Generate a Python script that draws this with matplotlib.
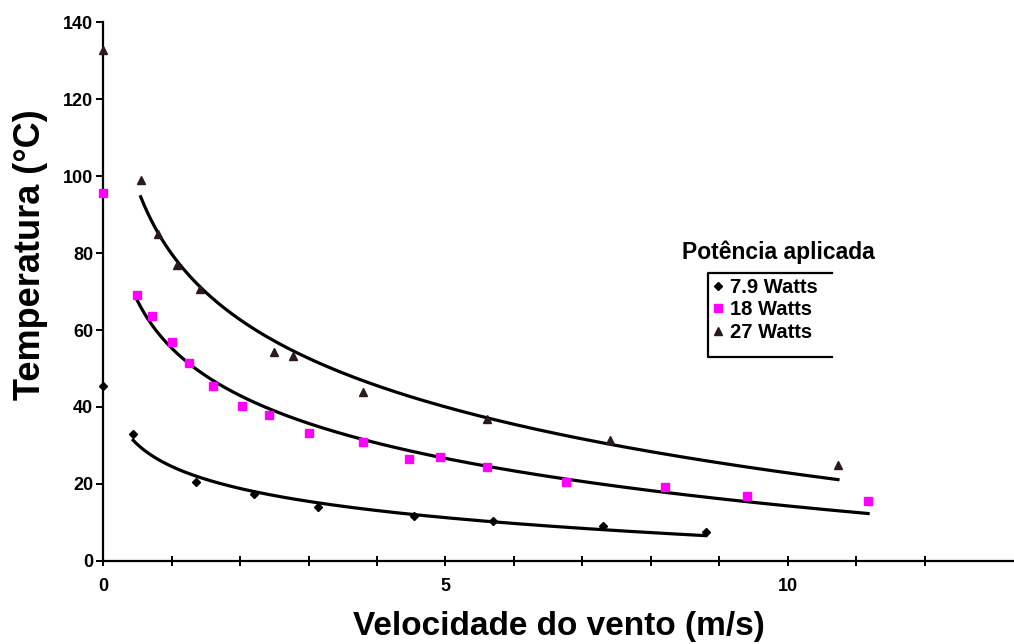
import numpy as np
import matplotlib.pyplot as plt
from matplotlib.lines import Line2D

# wind speed (m/s) and temperature (C) for each applied power
x_79 = [0.0, 0.44, 1.36, 2.2, 3.14, 4.54, 5.7, 7.3, 8.8]
y_79 = [45.5, 33.0, 20.5, 17.4, 14.0, 11.7, 10.4, 9.0, 7.5]

x_18 = [0.0, 0.5, 0.72, 1.0, 1.26, 1.6, 2.03, 2.42, 3.0, 3.8, 4.47, 4.92, 5.6, 6.76, 8.2, 9.4, 11.17]
y_18 = [95.6, 69.0, 63.6, 57.0, 51.4, 45.5, 40.3, 38.0, 33.2, 30.9, 26.5, 27.0, 24.4, 20.5, 19.2, 16.9, 15.6]

x_27 = [0.0, 0.55, 0.8, 1.08, 1.42, 2.5, 2.77, 3.8, 5.6, 7.4, 10.73]
y_27 = [132.7, 99.0, 85.0, 77.0, 70.6, 54.3, 53.2, 43.9, 36.9, 31.4, 25.0]

labels = ['7.9 Watts', '18 Watts', '27 Watts']

plt.rcParams['font.family'] = ['Liberation Sans', 'DejaVu Sans']
plt.rcParams['font.weight'] = 'bold'

fig = plt.figure(figsize=(10.14, 6.44), dpi=100)
ax = fig.add_axes([0.1016, 0.1289, 0.8984, 0.8369])

series = [
    (x_79, y_79, 'D', 4.5, 'black'),
    (x_18, y_18, 's', 6, '#ff00ff'),
    (x_27, y_27, '^', 6, '#2b1a1a'),
]

handles = []
for (xs, ys, mk, ms, col), lab in zip(series, labels):
    xs = np.array(xs)
    ys = np.array(ys)
    ax.plot(xs, ys, linestyle='none', marker=mk, ms=ms, color=col, clip_on=False, zorder=3)
    # logarithmic trendline (like a spreadsheet), points with x > 0
    m = xs > 0
    b, a = np.polyfit(np.log(xs[m]), ys[m], 1)
    xf = np.linspace(xs[m].min(), xs[m].max(), 200)
    ax.plot(xf, a + b * np.log(xf), color='black', lw=2.3)
    handles.append(Line2D([], [], linestyle='none', marker=mk, ms=ms * 0.9, color=col))

ax.set_xlim(0, 13.3)
ax.set_ylim(0, 140)
ax.set_yticks(np.arange(0, 141, 20))
ax.set_xticks([0, 5, 10])
ax.set_xticks(np.arange(0, 13, 1), minor=True)

for s in ['top', 'right']:
    ax.spines[s].set_visible(False)
for s in ['left', 'bottom']:
    ax.spines[s].set_linewidth(1.6)

ax.tick_params(axis='y', direction='out', length=5, width=1.4, labelsize=13, pad=2)
ax.tick_params(axis='x', which='both', direction='inout', length=7, width=1.4, labelsize=13, pad=9)

ax.set_ylabel('Temperatura (°C)', fontsize=26, fontweight='bold')
ax.yaxis.set_label_coords(-0.060, 0.568)
ax.set_xlabel('Velocidade do vento (m/s)', fontsize=24, fontweight='bold', labelpad=11)

leg = ax.legend(handles, labels, loc='upper left', bbox_to_anchor=(0.664, 0.535),
                frameon=False, fontsize=14.5, handlelength=0.5, handletextpad=0.35,
                labelspacing=0.18, borderpad=0.25, borderaxespad=0)
for t in leg.get_texts():
    t.set_fontweight('bold')
ax.text(0.741, 0.573, 'Potência aplicada', transform=ax.transAxes, ha='center',
        va='center', fontsize=16.5, fontweight='bold')

# legend frame: left, top and bottom edges
bx0, bx1, by0, by1 = 0.664, 0.80, 0.378, 0.534
ax.add_line(Line2D([bx1, bx0, bx0, bx1], [by1, by1, by0, by0], transform=ax.transAxes,
                   color='black', lw=1.6, clip_on=False))

plt.savefig('out.png', dpi=100)
